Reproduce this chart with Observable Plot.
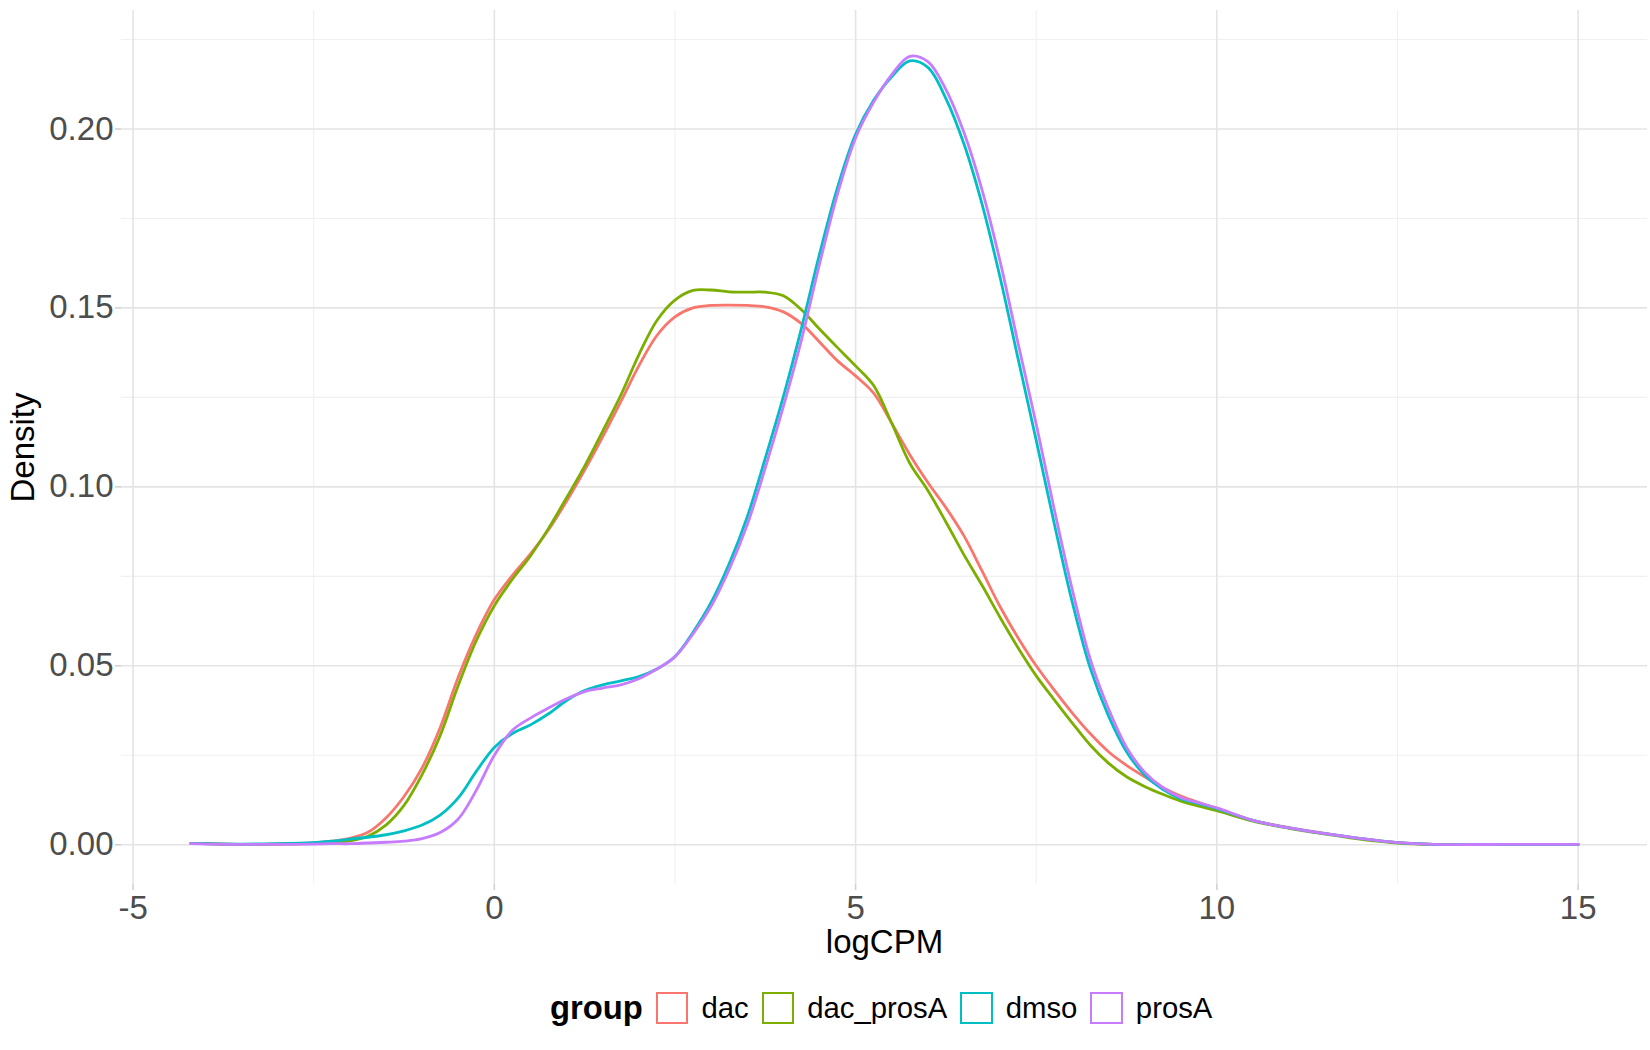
<!DOCTYPE html>
<html>
<head>
<meta charset="utf-8">
<script src="https://cdn.jsdelivr.net/npm/d3@7"></script>
<script src="https://cdn.jsdelivr.net/npm/@observablehq/plot@0.6"></script>
<style>
  html, body { margin: 0; padding: 0; background: #ffffff; }
  body { width: 1650px; height: 1050px; position: relative; font-family: "Liberation Sans", Arial, sans-serif; }
  #chart { position: absolute; left: 0; top: 0; }
  #legend { position: absolute; left: 550px; top: 968px; height: 80px; display: flex; align-items: center; }
  .lt { font-weight: bold; font-size: 32.8px; color: #000; margin-right: 13px; }
  .key { width: 28.5px; height: 28.5px; border: 2.5px solid; background: #fff; margin-right: 13px; }
  .lab { font-size: 29.3px; color: #000; margin-right: 13px; }
</style>
</head>
<body>
<div id="chart"></div>
<div id="legend"></div>
<script>
// ---- data ----
const groups = ["dac", "dac_prosA", "dmso", "prosA"];
const colors = ["#F8766D", "#7CAE00", "#00BFC4", "#C77CFF"];

const xTicks = [-5, 0, 5, 10, 15];
const xMinor = [-2.5, 2.5, 7.5, 12.5];
const yTicks = [0, 0.05, 0.10, 0.15, 0.20];
const yMinor = [0.025, 0.075, 0.125, 0.175, 0.225];

const logCPM = [-4.2, -4, -3.5, -3, -2.5, -2.25, -2, -1.75, -1.5, -1.25, -1, -0.75, -0.5, -0.25,
  0, 0.25, 0.5, 0.75, 1, 1.25, 1.5, 1.75, 2, 2.25, 2.5, 2.75, 3, 3.25, 3.5, 3.75, 4, 4.25, 4.5, 4.75,
  5, 5.25, 5.5, 5.75, 6, 6.25, 6.5, 6.75, 7, 7.25, 7.5, 7.75, 8, 8.25, 8.5, 8.75, 9, 9.25, 9.5, 9.75,
  10, 10.5, 11, 11.5, 12, 12.5, 13, 14, 15];

const dac = [0.0004, 0.0003, 0.0001, 0.0002, 0.0005, 0.0010, 0.0018, 0.0035, 0.0075, 0.0135, 0.0215, 0.0327, 0.0468, 0.0588,
  0.0685, 0.0753, 0.0813, 0.0880, 0.0960, 0.1047, 0.1140, 0.1238, 0.1338, 0.1423, 0.1475, 0.1500, 0.1507, 0.1508, 0.1507, 0.1503, 0.1489, 0.1456, 0.1405, 0.1352,
  0.1310, 0.1262, 0.1178, 0.1090, 0.1012, 0.0942, 0.0863, 0.0765, 0.0665, 0.0578, 0.0500, 0.0432, 0.0368, 0.0310, 0.0260, 0.0222, 0.0190, 0.0160, 0.0136, 0.0118,
  0.0102, 0.0068, 0.0048, 0.0032, 0.0017, 0.0006, 0.0001, 0.0001, 0.0001];

const dac_prosA = [0.0004, 0.0003, 0.0001, 0.0002, 0.0004, 0.0007, 0.0011, 0.0024, 0.0055, 0.0110, 0.0196, 0.0305, 0.0445, 0.0570,
  0.0668, 0.0742, 0.0807, 0.0884, 0.0970, 0.1058, 0.1156, 0.1256, 0.1369, 0.1465, 0.1522, 0.1549, 0.1550, 0.1545, 0.1544, 0.1544, 0.1534, 0.1495, 0.1441, 0.1389,
  0.1338, 0.1283, 0.1178, 0.1066, 0.0990, 0.0902, 0.0810, 0.0725, 0.0635, 0.0550, 0.0472, 0.0405, 0.0340, 0.0278, 0.0228, 0.0190, 0.0163, 0.0141, 0.0122, 0.0108,
  0.0095, 0.0066, 0.0046, 0.0030, 0.0015, 0.0005, 0.0001, 0.0001, 0.0001];

const dmso = [0.0004, 0.0003, 0.0002, 0.0003, 0.0006, 0.0010, 0.0016, 0.0021, 0.0028, 0.0039, 0.0055, 0.0083, 0.0131, 0.0205,
  0.0272, 0.0311, 0.0335, 0.0366, 0.0403, 0.0431, 0.0447, 0.0458, 0.0470, 0.0491, 0.0526, 0.0594, 0.0677, 0.0785, 0.0916, 0.1080, 0.1252, 0.1443, 0.1650, 0.1837,
  0.1985, 0.2080, 0.2146, 0.2190, 0.2172, 0.2085, 0.1958, 0.1790, 0.1585, 0.1357, 0.1130, 0.0897, 0.0677, 0.0492, 0.0360, 0.0260, 0.0195, 0.0155, 0.0129, 0.0115,
  0.0101, 0.0068, 0.0047, 0.0031, 0.0017, 0.0006, 0.0001, 0.0001, 0.0001];

const prosA = [0.0003, 0.0002, 0.0001, 0.0001, 0.0002, 0.0003, 0.0003, 0.0005, 0.0007, 0.0010, 0.0017, 0.0034, 0.0072, 0.0152,
  0.0250, 0.0320, 0.0354, 0.0382, 0.0408, 0.0428, 0.0438, 0.0447, 0.0464, 0.0491, 0.0525, 0.0589, 0.0666, 0.0769, 0.0894, 0.1053, 0.1224, 0.1410, 0.1622, 0.1818,
  0.1975, 0.2075, 0.2152, 0.2203, 0.2188, 0.2110, 0.1990, 0.1830, 0.1630, 0.1400, 0.1175, 0.0937, 0.0712, 0.0517, 0.0380, 0.0272, 0.0203, 0.0160, 0.0132, 0.0117,
  0.0103, 0.0068, 0.0047, 0.0031, 0.0017, 0.0006, 0.0001, 0.0001, 0.0001];

const seriesValues = [dac, dac_prosA, dmso, prosA];

// ---- table ----
const table = [];
groups.forEach((g, gi) => {
  seriesValues[gi].forEach((v, i) => table.push({group: g, logCPM: logCPM[i], density: v}));
});

const fontFamily = "'Liberation Sans', Arial, sans-serif";

const chart = Plot.plot({
  width: 1650,
  height: 968,
  marginLeft: 121,
  marginRight: 3,
  marginTop: 10,
  marginBottom: 84,
  style: {fontFamily, background: "#ffffff", overflow: "visible"},
  x: {domain: [-5.16, 15.96]},
  y: {domain: [-0.0111, 0.2331]},
  color: {domain: groups, range: colors},
  marks: [
    Plot.gridX(xMinor, {stroke: "#f0f0f0", strokeOpacity: 1, strokeWidth: 1.1}),
    Plot.gridY(yMinor, {stroke: "#f0f0f0", strokeOpacity: 1, strokeWidth: 1.1}),
    Plot.gridX(xTicks, {stroke: "#e4e4e4", strokeOpacity: 1, strokeWidth: 1.6}),
    Plot.gridY(yTicks, {stroke: "#e4e4e4", strokeOpacity: 1, strokeWidth: 1.6}),
    Plot.axisX(xTicks, {tickSize: 6, tickPadding: 5, stroke: "#cfcfcf", strokeWidth: 1.5, fill: "#4d4d4d", fontSize: 33, tickFormat: d => String(d), label: null}),
    Plot.axisY(yTicks, {tickSize: 6, tickPadding: 2, stroke: "#cfcfcf", strokeWidth: 1.5, fill: "#4d4d4d", fontSize: 33, tickFormat: d3.format(".2f"), label: null}),
    Plot.line(table, {x: "logCPM", y: "density", z: "group", stroke: "group", strokeWidth: 2.8, curve: "catmull-rom"}),
    Plot.text(["logCPM"], {text: d => d, frameAnchor: "bottom", textAnchor: "middle", lineAnchor: "middle", dy: 58, fontSize: 33, fill: "#000"}),
    Plot.text(["Density"], {text: d => d, frameAnchor: "left", textAnchor: "middle", lineAnchor: "middle", dx: -98, rotate: -90, fontSize: 33, fill: "#000"})
  ]
});
document.getElementById("chart").appendChild(chart);

// ---- legend ----
const legend = document.getElementById("legend");
const title = document.createElement("span");
title.className = "lt";
title.textContent = "group";
legend.appendChild(title);
groups.forEach((g, i) => {
  const k = document.createElement("span");
  k.className = "key";
  k.style.borderColor = colors[i];
  legend.appendChild(k);
  const l = document.createElement("span");
  l.className = "lab";
  l.textContent = g;
  legend.appendChild(l);
});
</script>
</body>
</html>
